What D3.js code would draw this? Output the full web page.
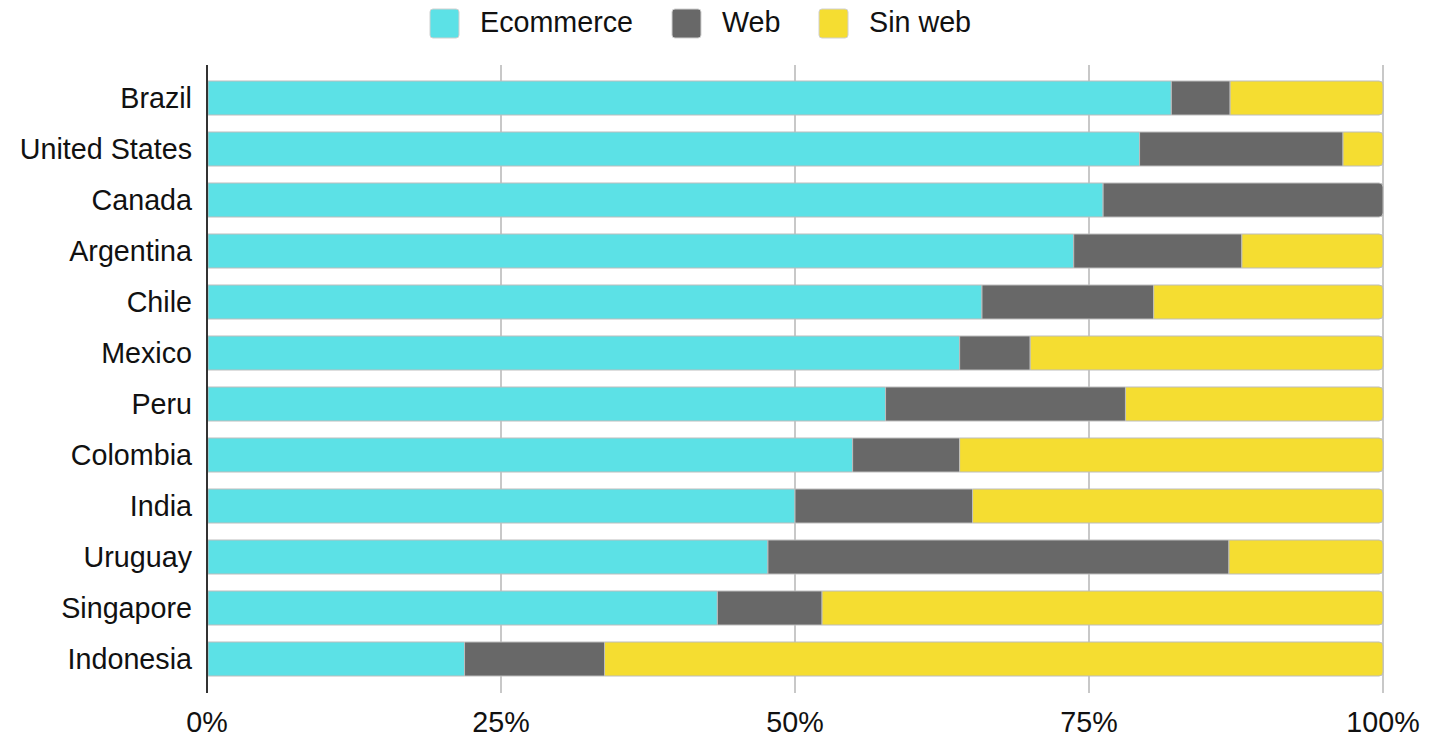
<!DOCTYPE html>
<html>
<head>
<meta charset="utf-8">
<script src="https://cdn.jsdelivr.net/npm/d3@7"></script>
<style>
  body { margin: 0; background: #fff; }
  svg { display: block; font-family: "Liberation Sans", Arial, Helvetica, sans-serif; }
</style>
</head>
<body>
<svg id="chart" width="1445" height="738"></svg>
<script>
"use strict";

// countries, top to bottom
var countries = ["Brazil", "United States", "Canada", "Argentina", "Chile", "Mexico",
                 "Peru", "Colombia", "India", "Uruguay", "Singapore", "Indonesia"];

// share of each group, in percent
var ecommerce = [82.0, 79.3, 76.2, 73.7, 65.9, 64.0, 57.7, 54.9, 50.0, 47.7, 43.4, 21.9];
var web       = [ 5.0, 17.3, 23.8, 14.3, 14.6,  6.0, 20.4,  9.1, 15.1, 39.2,  8.9, 11.9];
var sinWeb    = [13.0,  3.4,  0.0, 12.0, 19.5, 30.0, 21.9, 36.0, 34.9, 13.1, 47.7, 66.2];

var seriesNames = ["Ecommerce", "Web", "Sin web"];
var seriesColors = ["#5ce1e6", "#686868", "#f5dd31"];
var tickValues = [0, 25, 50, 75, 100];

var svg = d3.select("#chart");
var fontSize = "28.7px";

var x = d3.scaleLinear().domain([0, 100]).range([207, 1383]);
var y = d3.scaleBand().domain(countries).range([72.5, 684.5])
    .paddingInner(1 / 3).paddingOuter(1 / 6);

// build the stacked rows
var rows = countries.map(function(c, i) {
    return { country: c, Ecommerce: ecommerce[i], Web: web[i], "Sin web": sinWeb[i] };
});
var stack = d3.stack().keys(seriesNames)(rows);

// vertical grid lines
svg.append("g")
    .selectAll("line")
    .data(tickValues.slice(1))
  .enter().append("line")
    .attr("x1", function(d) { return x(d); })
    .attr("x2", function(d) { return x(d); })
    .attr("y1", 65)
    .attr("y2", 693)
    .style("stroke", "#c8c8c8")
    .style("stroke-width", 2);

// path for a bar segment, rounding the right end if it is the last one
function segmentPath(x0, x1, y0, h, r) {
    if (r <= 0) {
        return "M" + x0 + "," + y0 + "H" + x1 + "V" + (y0 + h) + "H" + x0 + "Z";
    }
    return "M" + x0 + "," + y0 +
        "H" + (x1 - r) +
        "Q" + x1 + "," + y0 + " " + x1 + "," + (y0 + r) +
        "V" + (y0 + h - r) +
        "Q" + x1 + "," + (y0 + h) + " " + (x1 - r) + "," + (y0 + h) +
        "H" + x0 + "Z";
}

var bars = svg.append("g");
stack.forEach(function(layer, li) {
    bars.append("g")
        .selectAll("path")
        .data(layer.filter(function(d) { return d[1] - d[0] > 0; }))
      .enter().append("path")
        .attr("d", function(d) {
            var last = d[1] >= 99.95 ? 4 : 0;
            return segmentPath(x(d[0]) + (d[0] === 0 ? 1 : 0), x(d[1]),
                               y(d.data.country), y.bandwidth(), last);
        })
        .style("fill", seriesColors[li])
        .style("stroke", "#bdbdbd")
        .style("stroke-width", 1);
});

// zero axis line
svg.append("line")
    .attr("x1", x(0)).attr("x2", x(0))
    .attr("y1", 65).attr("y2", 693)
    .style("stroke", "#333")
    .style("stroke-width", 2);

// category labels
svg.append("g")
    .selectAll("text")
    .data(countries)
  .enter().append("text")
    .attr("x", 192)
    .attr("y", function(d) { return y(d) + y.bandwidth() / 2; })
    .attr("dy", "0.35em")
    .attr("text-anchor", "end")
    .style("font-size", fontSize)
    .style("fill", "#111")
    .text(function(d) { return d; });

// tick labels
svg.append("g")
    .selectAll("text")
    .data(tickValues)
  .enter().append("text")
    .attr("x", function(d) { return x(d); })
    .attr("y", 732)
    .attr("text-anchor", "middle")
    .style("font-size", fontSize)
    .style("fill", "#111")
    .text(function(d) { return d + "%"; });

// legend
var legendX = [430, 672, 819];
var legend = svg.append("g")
    .selectAll("g")
    .data(seriesNames)
  .enter().append("g")
    .attr("transform", function(d, i) { return "translate(" + legendX[i] + ",0)"; });

legend.append("rect")
    .attr("x", 0).attr("y", 9)
    .attr("width", 29).attr("height", 29)
    .attr("rx", 3)
    .style("fill", function(d, i) { return seriesColors[i]; })
    .style("stroke", "#d0d0d0")
    .style("stroke-width", 1);

legend.append("text")
    .attr("x", 50)
    .attr("y", 32)
    .style("font-size", fontSize)
    .style("fill", "#111")
    .text(function(d) { return d; });
</script>
</body>
</html>
